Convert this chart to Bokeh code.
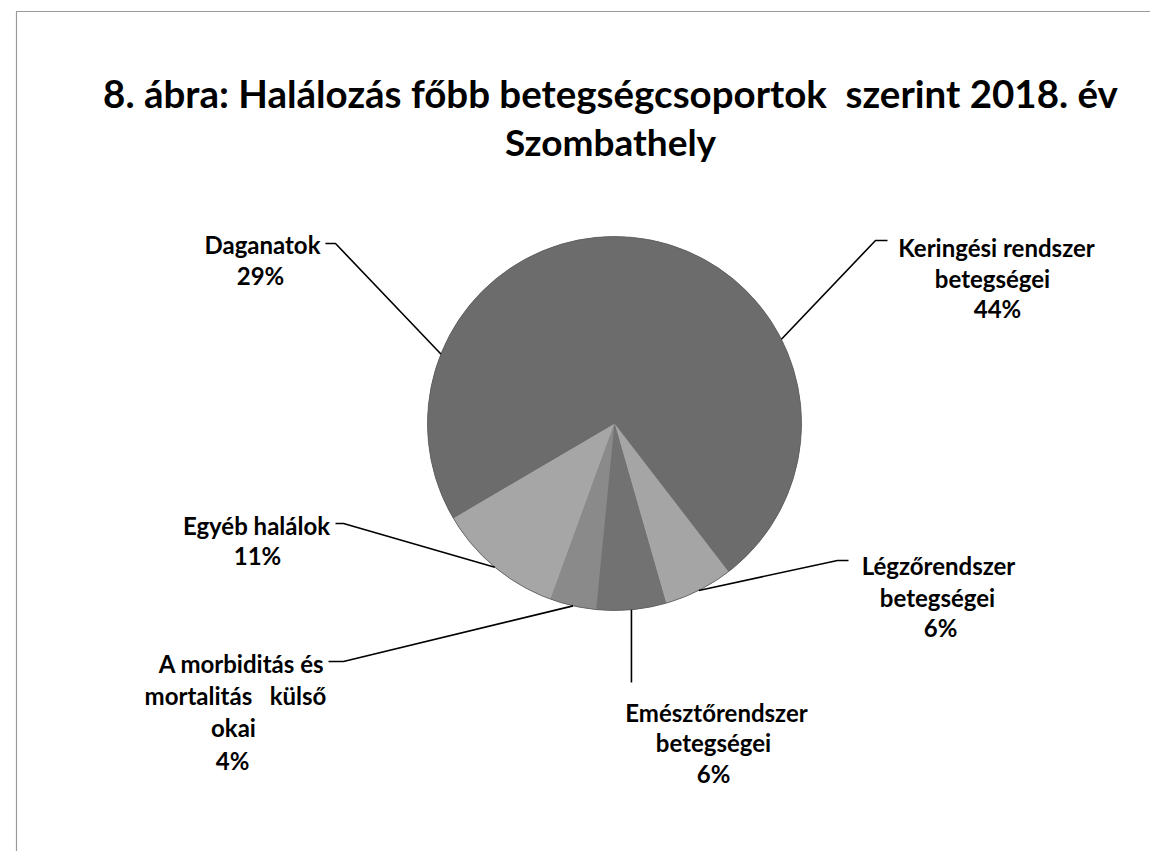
import math
from bokeh.plotting import figure
from bokeh.models import Range1d
from bokeh.core.properties import value
from bokeh.embed import file_html
from bokeh.resources import INLINE

# ---- data ----
categories = [
    "Keringési rendszer betegségei",
    "Légzőrendszer betegségei",
    "Emésztőrendszer betegségei",
    "A morbiditás és mortalitás külső okai",
    "Egyéb halálok",
    "Daganatok",
]
values = [44, 6, 6, 4, 11, 29]
label_lines = [
    ["Keringési rendszer", "betegségei"],
    ["Légzőrendszer", "betegségei"],
    ["Emésztőrendszer", "betegségei"],
    ["A morbiditás és", "mortalitás\u00a0\u00a0\u00a0külső", "okai"],
    ["Egyéb halálok"],
    ["Daganatok"],
]
title_lines = ["8. ábra: Halálozás főbb betegségcsoportok\u00a0 szerint 2018. év", "Szombathely"]

# ---- style / layout ----
colors = ["#6c6c6c", "#a5a5a5", "#727272", "#8a8a8a", "#a6a6a6", "#6c6c6c"]
W, H = 1150, 851


def X(px):
    return px


def Y(py):
    return H - py


cx, cy, R = X(614), Y(423), 187
start_deg = 106.0

# label anchor (x center) and baselines for each line (image pixel coords)
label_x = [[996, 992, 997], [938, 937, 940], [716, 713, 713],
           [241, 235, 233, 232], [256, 257], [262, 260]]
label_y = [[247, 278, 308], [565, 597, 627], [712, 742, 773],
           [663, 695, 727, 760], [525, 555], [244, 275]]
# leader line: elbow and end points (image coords)
leader_pts = [
    [(875, 240), (887, 240)],
    [(837, 560), (848, 560)],
    [(629, 682)],
    [(343, 661), (328, 661)],
    [(343, 523), (335, 523)],
    [(335, 243), (325, 243)],
]

p = figure(width=W, height=H, x_range=Range1d(0, W), y_range=Range1d(0, H),
           output_backend="svg", toolbar_location=None, min_border=0,
           x_axis_type=None, y_axis_type=None)
p.grid.visible = False
p.outline_line_color = None
p.background_fill_color = "white"
p.border_fill_color = "white"

# frame (scanned page border)
p.quad(left=[X(16)], right=[X(1152)], top=[Y(11)], bottom=[Y(853)],
       fill_color=None, line_color="#9a9a9a", line_width=1.2)

# wedges, clockwise from start_deg
total = float(sum(values))
starts, ends, mids = [], [], []
acc = 0.0
for v in values:
    a0 = start_deg - acc / total * 360.0
    a1 = a0 - v / total * 360.0
    starts.append(math.radians(a1))
    ends.append(math.radians(a0))
    mids.append(math.radians((a0 + a1) / 2.0))
    acc += v

# base disc in the dominant colour so the seams between slices do not show
p.circle(x=[cx], y=[cy], radius=R, fill_color=colors[0], line_color=None)
p.wedge(x=cx, y=cy, radius=R, start_angle=starts, end_angle=ends,
        fill_color=colors, line_color=None)
# subtle darker rim
p.circle(x=[cx], y=[cy], radius=R, fill_color=None, line_color="#5e5e5e", line_width=0.8)

# leader lines
xs, ys = [], []
for m, pts in zip(mids, leader_pts):
    ex, ey = cx + R * math.cos(m), cy + R * math.sin(m)
    if len(pts) == 1:
        lx = [ex, ex]
        ly = [ey, Y(pts[0][1])]
    else:
        lx = [ex] + [X(a) for a, b in pts]
        ly = [ey] + [Y(b) for a, b in pts]
    xs.append(lx)
    ys.append(ly)
p.multi_line(xs=xs, ys=ys, line_color="black", line_width=1.6)

FONT = value("Lato")

# labels
for lines, v, lxs, lys in zip(label_lines, values, label_x, label_y):
    texts = lines + [f"{v}%"]
    p.text(x=[X(a) for a in lxs], y=[Y(b) for b in lys], text=texts,
           text_font=FONT, text_font_style="bold", text_font_size="24px",
           text_color="black", text_align="center", text_baseline="alphabetic")

# title
p.text(x=[X(610)], y=[Y(92)], text=[title_lines[0]],
       text_font=FONT, text_font_style="bold", text_font_size="38.5px",
       text_color="black", text_align="center", text_baseline="alphabetic")
p.text(x=[X(610)], y=[Y(141)], text=[title_lines[1]],
       text_font=FONT, text_font_style="bold", text_font_size="37px",
       text_color="black", text_align="center", text_baseline="alphabetic")

open("out.html", "w").write(file_html(p, INLINE))
